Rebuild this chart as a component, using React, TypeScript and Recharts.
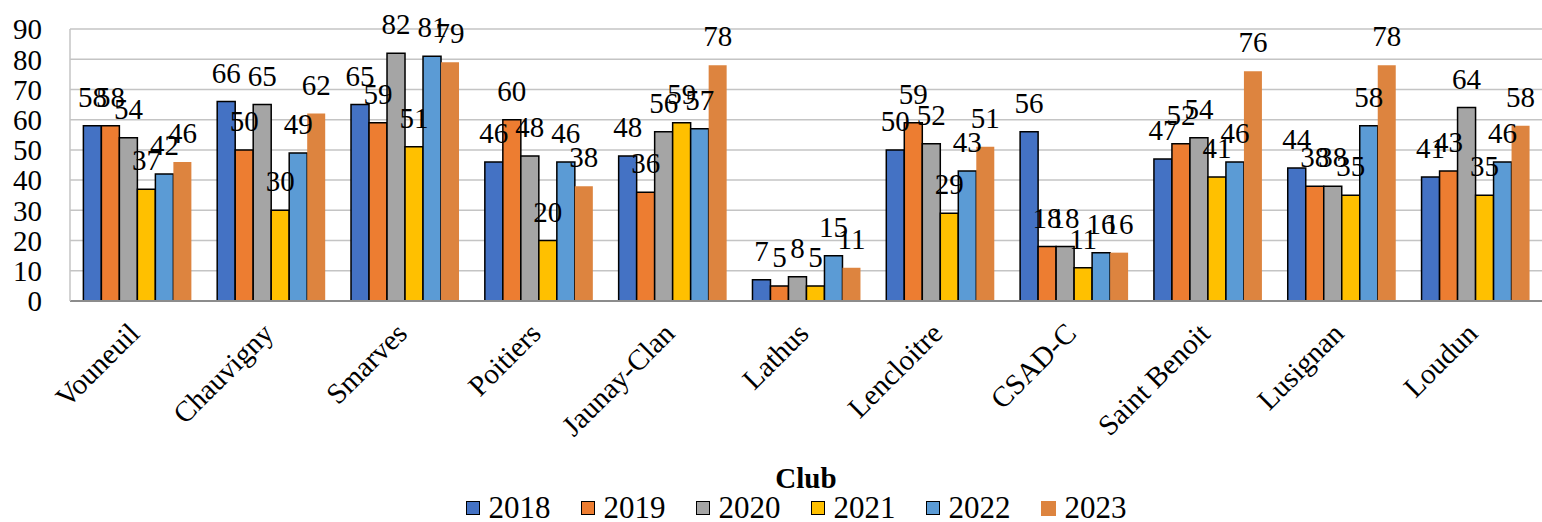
import React from "react"
import { BarChart, Bar, XAxis, YAxis, CartesianGrid, Legend, LabelList } from "recharts"

const clubs = [
  "Vouneuil",
  "Chauvigny",
  "Smarves",
  "Poitiers",
  "Jaunay-Clan",
  "Lathus",
  "Lencloitre",
  "CSAD-C",
  "Saint Benoit",
  "Lusignan",
  "Loudun",
]

const y2018 = [58, 66, 65, 46, 48, 7, 50, 56, 47, 44, 41]
const y2019 = [58, 50, 59, 60, 36, 5, 59, 18, 52, 38, 43]
const y2020 = [54, 65, 82, 48, 56, 8, 52, 18, 54, 38, 64]
const y2021 = [37, 30, 51, 20, 59, 5, 29, 11, 41, 35, 35]
const y2022 = [42, 49, 81, 46, 57, 15, 43, 16, 46, 58, 46]
const y2023 = [46, 62, 79, 38, 78, 11, 51, 16, 76, 78, 58]

const yTicks = [0, 10, 20, 30, 40, 50, 60, 70, 80, 90]

const series = [
  { key: "2018", values: y2018, color: "#4472C4", outlined: true },
  { key: "2019", values: y2019, color: "#ED7D31", outlined: true },
  { key: "2020", values: y2020, color: "#A5A5A5", outlined: true },
  { key: "2021", values: y2021, color: "#FFC000", outlined: true },
  { key: "2022", values: y2022, color: "#5B9BD5", outlined: true },
  { key: "2023", values: y2023, color: "#DD843F", outlined: false },
]

const data = clubs.map((club, i) => {
  const row: Record<string, string | number> = { club }
  series.forEach((s) => {
    row[s.key] = s.values[i]
  })
  return row
})

const font = "'Liberation Serif', Cambria, serif"

function ClubTick({ x, y, payload }: any) {
  return (
    <g transform={`translate(${x - 3},${y + 27})`}>
      <text textAnchor="end" transform="rotate(-45)" dy="0.35em" fontSize={29} fontFamily={font} fill="#000">
        {payload.value}
      </text>
    </g>
  )
}

function ClubLegend() {
  return (
    <div style={{ position: "relative", width: 1542, height: 60, fontFamily: font, color: "#000" }}>
      <div
        style={{
          position: "absolute",
          left: 70,
          right: 0,
          top: 2,
          textAlign: "center",
          fontWeight: "bold",
          fontSize: 29,
          lineHeight: "29px",
        }}
      >
        Club
      </div>
      <div
        style={{
          position: "absolute",
          left: 80,
          right: 0,
          top: 32,
          display: "flex",
          justifyContent: "center",
          fontSize: 31,
          lineHeight: "28px",
        }}
      >
        {series.map((s) => (
          <div key={s.key} style={{ display: "flex", alignItems: "center", marginRight: 30 }}>
            <span
              style={{
                display: "inline-block",
                width: s.outlined ? 12 : 15,
                height: s.outlined ? 12 : 15,
                background: s.color,
                border: s.outlined ? "1.5px solid #000" : "none",
                marginRight: 9,
              }}
            />
            <span>{s.key}</span>
          </div>
        ))}
      </div>
    </div>
  )
}

export default function App() {
  return (
    <div style={{ position: "absolute", left: 0, top: 0, background: "#fff" }}>
      <BarChart
        width={1542}
        height={522}
        data={data}
        margin={{ top: 29, right: 0, bottom: 0, left: 0 }}
        barCategoryGap="10%"
        barGap={0}
      >
        <CartesianGrid vertical={false} stroke="#C4C4C4" strokeWidth={1.5} />
        <XAxis
          dataKey="club"
          height={161}
          interval={0}
          tick={<ClubTick />}
          tickLine={false}
          tickSize={0}
          tickMargin={0}
          axisLine={{ stroke: "#8C8C8C", strokeWidth: 2 }}
        />
        <YAxis
          width={70}
          domain={[0, 90]}
          ticks={yTicks}
          interval={0}
          tickLine={false}
          tickSize={0}
          tickMargin={28}
          axisLine={{ stroke: "#C4C4C4", strokeWidth: 1.5 }}
          tick={{ fontSize: 29, fontFamily: font, fill: "#000" }}
        />
        <Legend verticalAlign="bottom" height={60} content={<ClubLegend />} />
        {series.map((s) => (
          <Bar
            key={s.key}
            dataKey={s.key}
            fill={s.color}
            stroke={s.outlined ? "#000" : "none"}
            strokeWidth={1.5}
            isAnimationActive={false}
          >
            <LabelList
              dataKey={s.key}
              position="top"
              offset={19}
              fontSize={29}
              fontFamily={font}
              fill="#000"
            />
          </Bar>
        ))}
      </BarChart>
    </div>
  )
}
